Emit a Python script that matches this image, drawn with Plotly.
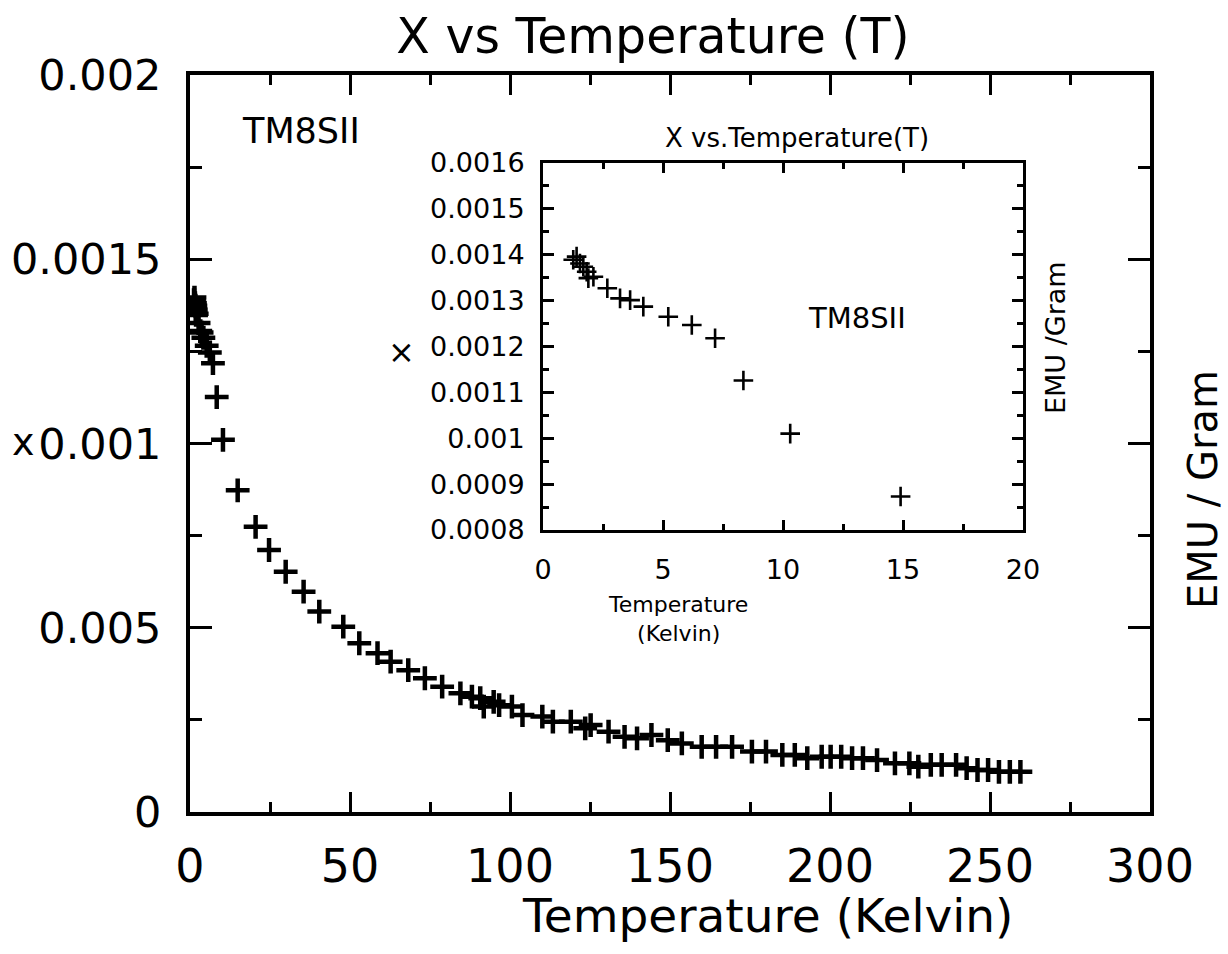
import plotly.graph_objects as go

# ---------------- data ----------------
# low-temperature points (also shown in the inset)
temp_low = [1.26, 1.40, 1.54, 1.68, 1.82, 1.89, 2.10, 2.68, 3.21, 3.63, 4.18,
            5.22, 6.20, 7.17, 8.35, 10.3, 14.9]
chi_low = [0.001389, 0.001396, 0.001381, 0.001374, 0.001363, 0.001349, 0.001352,
           0.001327, 0.001305, 0.001301, 0.001287, 0.001265, 0.001247, 0.001218,
           0.001126, 0.001010, 0.000873]

# intermediate temperatures
temp_mid = [20.5, 24.7, 29.9, 35.5, 40.4, 47.9, 52.9, 58.6, 62.7, 68.2, 73.4,
            78.8, 84.5, 88.1, 90.7, 91.8, 94.9]
chi_mid = [0.000774, 0.000711, 0.000652, 0.000598, 0.000544, 0.000503, 0.000458,
           0.000431, 0.000408, 0.000385, 0.000363, 0.000340, 0.000322, 0.000313,
           0.000309, 0.000286, 0.000299]

# high temperatures
temp_high = [96.6, 100.6, 103.9, 110.1, 113.4, 119.0, 123.5, 125.2, 130.8, 135.8,
             139.7, 144.2, 149.3, 153.7, 159.9, 164.4, 169.4, 175.6, 180.0, 185.1,
             189.0, 192.9, 197.4, 200.2, 203.5, 206.9, 210.3, 214.7, 220.3, 224.8,
             227.6, 231.5, 234.9, 239.4, 242.7, 246.1, 249.4, 252.8, 256.2, 259.5]
chi_high = [0.000290, 0.000286, 0.000263, 0.000259, 0.000245, 0.000245, 0.000227,
            0.000236, 0.000218, 0.000204, 0.000200, 0.000209, 0.000195, 0.000186,
            0.000177, 0.000177, 0.000177, 0.000164, 0.000164, 0.000155, 0.000155,
            0.000146, 0.000150, 0.000150, 0.000150, 0.000146, 0.000146, 0.000141,
            0.000132, 0.000132, 0.000123, 0.000128, 0.000128, 0.000128, 0.000119,
            0.000114, 0.000114, 0.000109, 0.000109, 0.000109]

main_x_ticks = [0, 50, 100, 150, 200, 250, 300]
main_y_ticks = [0, 0.0005, 0.001, 0.0015, 0.002]
main_y_labels = ["0", "0.005", "0.001", "0.0015", "0.002"]

inset_x_ticks = [0, 5, 10, 15, 20]
inset_y_ticks = [0.0008, 0.0009, 0.0010, 0.0011, 0.0012, 0.0013, 0.0014, 0.0015, 0.0016]
inset_y_labels = ["0.0008", "0.0009", "0.001", "0.0011", "0.0012", "0.0013",
                  "0.0014", "0.0015", "0.0016"]

# ---------------- figure ----------------
W, H = 1228, 954
FONT = "DejaVu Sans"


def px(x):
    return x / W


def py(y):
    return 1 - y / H


all_T = temp_low + temp_mid + temp_high
all_chi = chi_low + chi_mid + chi_high

fig = go.Figure()

fig.add_trace(go.Scatter(
    x=all_T, y=all_chi, mode="markers", xaxis="x", yaxis="y",
    marker=dict(symbol="cross-thin", size=17, color="black",
                line=dict(color="black", width=4.5)),
    showlegend=False, hoverinfo="skip"))

fig.add_trace(go.Scatter(
    x=temp_low, y=chi_low, mode="markers", xaxis="x2", yaxis="y2",
    marker=dict(symbol="cross-thin", size=14, color="black",
                line=dict(color="black", width=2.6)),
    showlegend=False, hoverinfo="skip"))

axis_common = dict(showline=True, linecolor="black", mirror="ticks",
                   ticks="inside", tickcolor="black", showgrid=False,
                   zeroline=False, automargin=False)

fig.update_layout(
    width=W, height=H,
    margin=dict(l=0, r=0, t=0, b=0, pad=0, autoexpand=False),
    paper_bgcolor="white", plot_bgcolor="white",
    font=dict(family=FONT, color="black"),
    title=dict(text="X vs Temperature (T)", x=px(653), y=py(36),
               xanchor="center", yanchor="middle",
               font=dict(family=FONT, size=49, color="black")),
    xaxis=dict(domain=[px(190), px(1150)], range=[0, 300], anchor="y",
               tickvals=main_x_ticks, ticklen=20, tickwidth=3, linewidth=4,
               minor=dict(dtick=25, ticklen=10, tickwidth=3, ticks="inside",
                          tickcolor="black"),
               tickfont=dict(size=46, family=FONT), ticklabelstandoff=11,
               **axis_common),
    yaxis=dict(domain=[py(812), py(75)], range=[0, 0.002], anchor="x",
               tickvals=main_y_ticks, ticktext=main_y_labels,
               ticklen=22, tickwidth=3, linewidth=4,
               minor=dict(dtick=0.00025, ticklen=12, tickwidth=3, ticks="inside",
                          tickcolor="black"),
               tickfont=dict(size=43, family=FONT), ticklabelstandoff=16,
               **axis_common),
    xaxis2=dict(domain=[px(543), px(1023)], range=[0, 20], anchor="y2",
                tickvals=inset_x_ticks, ticklen=10, tickwidth=2.5, linewidth=3,
                minor=dict(dtick=2.5, ticklen=6, tickwidth=2.5, ticks="inside",
                           tickcolor="black"),
                tickfont=dict(size=27, family=FONT), ticklabelstandoff=14,
                **axis_common),
    yaxis2=dict(domain=[py(530), py(163)], range=[0.0008, 0.0016], anchor="x2",
                tickvals=inset_y_ticks, ticktext=inset_y_labels,
                ticklen=11, tickwidth=2.5, linewidth=3,
                minor=dict(dtick=0.00005, ticklen=6, tickwidth=2.5, ticks="inside",
                           tickcolor="black"),
                tickfont=dict(size=27, family=FONT), ticklabelstandoff=10,
                **axis_common),
)

annotations = [
    dict(text="Temperature (Kelvin)", x=px(768), y=py(915), size=47, angle=0),
    dict(text="EMU / Gram", x=px(1203), y=py(490), size=40, angle=-90),
    dict(text="x", x=px(24), y=py(442), size=38, angle=0),
    dict(text="TM8SII", x=px(301), y=py(131), size=35, angle=0),
    dict(text="X vs.Temperature(T)", x=px(797), y=py(138), size=26, angle=0),
    dict(text="TM8SII", x=px(857), y=py(318), size=29, angle=0),
    dict(text="×", x=px(401), y=py(352), size=32, angle=0),
    dict(text="Temperature<br>(Kelvin)", x=px(678), y=py(619), size=22, angle=0),
    dict(text="EMU /Gram", x=px(1055), y=py(338), size=27, angle=-90),
]
for a in annotations:
    fig.add_annotation(text=a["text"], x=a["x"], y=a["y"], xref="paper", yref="paper",
                       xanchor="center", yanchor="middle", showarrow=False,
                       textangle=a["angle"],
                       font=dict(family=FONT, size=a["size"], color="black"))

fig.write_html("out.html")
